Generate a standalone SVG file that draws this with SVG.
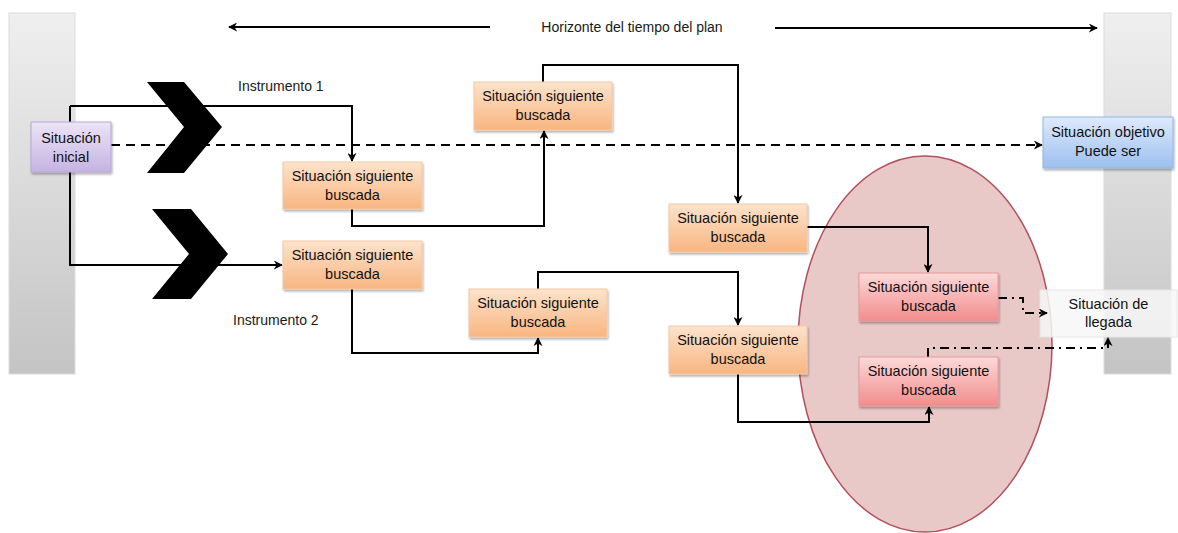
<svg xmlns="http://www.w3.org/2000/svg" width="1178" height="533" viewBox="0 0 1178 533">
<defs>
<linearGradient id="gBar" x1="0" y1="0" x2="0" y2="1"><stop offset="0" stop-color="#efefef"/><stop offset="1" stop-color="#c4c4c4"/></linearGradient>
<linearGradient id="gOr" x1="0" y1="0" x2="0" y2="1"><stop offset="0" stop-color="#fde3cc"/><stop offset="1" stop-color="#f8b580"/></linearGradient>
<linearGradient id="gRd" x1="0" y1="0" x2="0" y2="1"><stop offset="0" stop-color="#fdd9d9"/><stop offset="1" stop-color="#f28c8c"/></linearGradient>
<linearGradient id="gPu" x1="0" y1="0" x2="0" y2="1"><stop offset="0" stop-color="#ece4f6"/><stop offset="1" stop-color="#c5b3e3"/></linearGradient>
<linearGradient id="gBl" x1="0" y1="0" x2="0" y2="1"><stop offset="0" stop-color="#dfeafc"/><stop offset="1" stop-color="#9cc0ef"/></linearGradient>
<filter id="sh" x="-10%" y="-10%" width="130%" height="140%"><feDropShadow dx="1" dy="2" stdDeviation="1.2" flood-color="#000" flood-opacity="0.3"/></filter>
<marker id="ar" viewBox="0 0 10 10" refX="9" refY="5" markerWidth="9" markerHeight="9" markerUnits="userSpaceOnUse" orient="auto"><path d="M0,0 L10,5 L0,10 L3,5 z" fill="#000"/></marker>
</defs>
<style>
.bar{fill:url(#gBar);stroke:#dcdcdc;stroke-width:1}
.box{stroke-width:1;filter:url(#sh)}
.or{fill:url(#gOr);stroke:#f3c9a4}
.rd{fill:url(#gRd);stroke:#e79a9a}
.t{font-family:"Liberation Sans",Arial,sans-serif;font-size:14.5px;fill:#111;text-anchor:middle}
.lab{font-family:"Liberation Sans",Arial,sans-serif;font-size:14px;fill:#1a1a1a}
.c{fill:none;stroke:#000;stroke-width:2}
.dash{stroke-dasharray:9,6}
.dd{stroke-dasharray:9,5,2,5}
</style>

<g id="bars">
<rect class="bar" x="9" y="13" width="66" height="361"/>
<rect class="bar" x="1104" y="13" width="67" height="361"/>
</g>

<g id="ellipse">
<ellipse cx="925" cy="344" rx="127" ry="188" fill="#e9c8c8" stroke="#b3505c" stroke-width="1.5"/>
</g>

<g id="chevrons">
<polygon points="147,82 184,82 222,127 184,173 147,173 184,127" fill="#000"/>
<polygon points="152,209 191,209 228,254 191,299 152,299 189,254" fill="#000"/>
</g>

<g id="n-llegada">
<rect x="1040" y="290" width="137" height="47" fill="#f7f7f7" fill-opacity="0.85" stroke="#e6e6e6"/>
<text class="t" x="1108.5" y="309">Situación de</text>
<text class="t" x="1108.5" y="327">llegada</text>
</g>

<g id="connectors">
<path class="c" d="M490,27 H229" marker-end="url(#ar)"/>
<path class="c" d="M775,28 H1097" marker-end="url(#ar)"/>
<path class="c" d="M70,106 H352 V161" marker-end="url(#ar)"/>
<path class="c" d="M70,106 V265 H282" marker-end="url(#ar)"/>
<path class="c dash" d="M111,145 H1042" marker-end="url(#ar)"/>
<path class="c" d="M352,209 V226 H544 V131" marker-end="url(#ar)"/>
<path class="c" d="M543,82 V65 H738 V203" marker-end="url(#ar)"/>
<path class="c" d="M807,227 H928 V272" marker-end="url(#ar)"/>
<path class="c" d="M352,289 V353 H538 V338" marker-end="url(#ar)"/>
<path class="c" d="M538,289 V272 H738 V325" marker-end="url(#ar)"/>
<path class="c" d="M738,374 V422 H929 V407" marker-end="url(#ar)"/>
<path class="c dd" d="M998,298 H1023 V313 H1047" marker-end="url(#ar)"/>
<path class="c dd" d="M928,357 V348 H1108 V338" marker-end="url(#ar)"/>
</g>

<g id="n-inicial">
<rect class="box" x="31" y="122" width="80" height="50" fill="url(#gPu)" stroke="#b9a6d8"/>
<text class="t" x="71" y="143">Situación</text>
<text class="t" x="71" y="162">inicial</text>
</g>

<g id="n-a">
<rect class="box or" x="283" y="162" width="139" height="47"/>
<text class="t" x="352.5" y="181">Situación siguiente</text>
<text class="t" x="352.5" y="200">buscada</text>
</g>
<g id="n-b">
<rect class="box or" x="283" y="241" width="139" height="48"/>
<text class="t" x="352.5" y="260">Situación siguiente</text>
<text class="t" x="352.5" y="279">buscada</text>
</g>
<g id="n-c">
<rect class="box or" x="474" y="82" width="138" height="48"/>
<text class="t" x="543" y="101">Situación siguiente</text>
<text class="t" x="543" y="120">buscada</text>
</g>
<g id="n-d">
<rect class="box or" x="669" y="204" width="138" height="48"/>
<text class="t" x="738" y="223">Situación siguiente</text>
<text class="t" x="738" y="242">buscada</text>
</g>
<g id="n-e">
<rect class="box or" x="469" y="289" width="138" height="48"/>
<text class="t" x="538" y="308">Situación siguiente</text>
<text class="t" x="538" y="327">buscada</text>
</g>
<g id="n-f">
<rect class="box or" x="669" y="326" width="138" height="48"/>
<text class="t" x="738" y="345">Situación siguiente</text>
<text class="t" x="738" y="364">buscada</text>
</g>
<g id="n-g">
<rect class="box rd" x="859" y="273" width="139" height="48"/>
<text class="t" x="928.5" y="292">Situación siguiente</text>
<text class="t" x="928.5" y="311">buscada</text>
</g>
<g id="n-h">
<rect class="box rd" x="859" y="357" width="139" height="49"/>
<text class="t" x="928.5" y="376">Situación siguiente</text>
<text class="t" x="928.5" y="395">buscada</text>
</g>

<g id="n-objetivo">
<rect class="box" x="1043" y="117" width="130" height="51" fill="url(#gBl)" stroke="#93b6e6"/>
<text class="t" x="1108" y="137">Situación objetivo</text>
<text class="t" x="1108" y="156">Puede ser</text>
</g>

<g id="labels">
<text class="lab" x="238" y="91">Instrumento 1</text>
<text class="lab" x="233" y="325">Instrumento 2</text>
<text class="lab" x="632" y="32" text-anchor="middle">Horizonte del tiempo del plan</text>
</g>
</svg>
